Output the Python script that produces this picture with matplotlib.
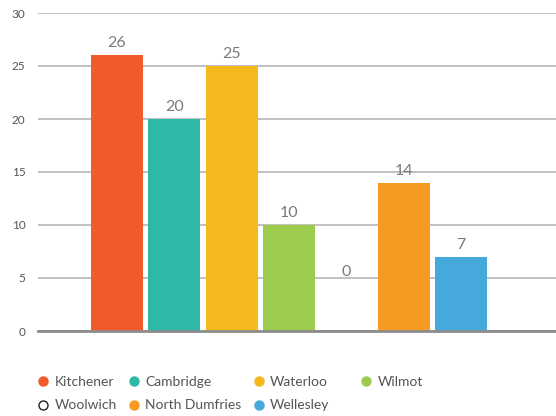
import matplotlib.pyplot as plt
from matplotlib.lines import Line2D

# --------------- data --------------- #
regions = ['Kitchener', 'Cambridge', 'Waterloo', 'Wilmot', 'Woolwich', 'North Dumfries', 'Wellesley']
counts = [26, 20, 25, 10, 0, 14, 7]
colors = ['#F15A2B', '#2EB8A6', '#F5B91E', '#9DCB4E', 'none', '#F69A22', '#46A9DB']
yticks = [0, 5, 10, 15, 20, 25, 30]

plt.rcParams['font.family'] = ['Lato', 'DejaVu Sans']

fig = plt.figure(figsize=(5.56, 4.16), dpi=100)
ax = fig.add_axes([38 / 556, 1 - 331 / 416, 1 - 38 / 556, (331 - 13) / 416])

x = list(range(len(regions)))
ax.bar(x, counts, width=0.91, color=colors, zorder=3)

# value labels
for xi, v in zip(x, counts):
    if v == 0:
        # label for zero sits a bit higher in the reference
        ax.text(xi, 5.6, str(v), ha='center', va='center', fontsize=11.5, color='#7a7a7a')
    else:
        ax.annotate(str(v), (xi, v), xytext=(0, 8.6), textcoords='offset points',
                    ha='center', va='center', fontsize=11.5, color='#7a7a7a')

ax.set_xlim(-1.38, 7.66)
ax.set_ylim(0, 30)
ax.set_yticks(yticks)
ax.set_xticks([])
ax.grid(axis='y', color='#bcbcbc', linewidth=1.3, zorder=0)
for s in ['top', 'right', 'left']:
    ax.spines[s].set_visible(False)
ax.spines['bottom'].set_color('#8c8c8c')
ax.spines['bottom'].set_linewidth(2)
ax.spines['bottom'].set_zorder(4)
ax.tick_params(axis='y', length=0, pad=9, labelsize=8.5, labelcolor='#555555')

# legend handles
handles = {}
for name, c in zip(regions, colors):
    if c == 'none':
        handles[name] = Line2D([], [], marker='o', linestyle='none', markersize=6.5,
                               markerfacecolor='white', markeredgecolor='#222222', markeredgewidth=1)
    else:
        handles[name] = Line2D([], [], marker='o', linestyle='none', markersize=6.5,
                               markerfacecolor=c, markeredgecolor=c)

leg_kw = dict(loc='upper left', frameon=False, fontsize=10, handlelength=0.7,
              handletextpad=0.45, columnspacing=0.9, labelspacing=0.85, borderaxespad=0)
# first three columns (filled column-wise)
order = ['Kitchener', 'Woolwich', 'Cambridge', 'North Dumfries', 'Waterloo', 'Wellesley']
leg1 = fig.legend([handles[n] for n in order], order, ncol=3,
                  bbox_to_anchor=(33 / 556, 1 - 370 / 416), **leg_kw)
# last column sits a bit further right
leg2 = fig.legend([handles['Wilmot']], ['Wilmot'], ncol=1,
                  bbox_to_anchor=(356 / 556, 1 - 370 / 416), **leg_kw)
for leg in (leg1, leg2):
    for t in leg.get_texts():
        t.set_color('#555555')

fig.savefig('out.png', dpi=100)
